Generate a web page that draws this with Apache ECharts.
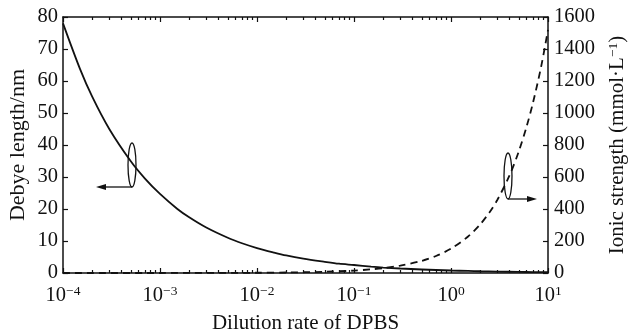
<!DOCTYPE html>
<html>
<head>
<meta charset="utf-8">
<script src="https://cdn.jsdelivr.net/npm/echarts@6/dist/echarts.min.js"></script>
<style>html,body{margin:0;padding:0;background:#fff}#c{width:632px;height:334px}</style>
</head>
<body>
<div id="c"></div>
<script>
const dilution = [1e-4,1.5e-4,2e-4,3e-4,5e-4,7e-4,1e-3,1.5e-3,2e-3,3e-3,5e-3,7e-3,1e-2,1.5e-2,2e-2,3e-2,5e-2,7e-2,0.1,0.15,0.2,0.3,0.5,0.7,1,1.5,2,3,5,7,10];
const debyeLength = [78.0,63.7,55.1,45.0,34.9,29.5,24.7,20.1,17.4,14.2,11.0,9.3,7.8,6.4,5.5,4.5,3.5,2.9,2.5,2.0,1.7,1.4,1.1,0.93,0.78,0.64,0.55,0.45,0.35,0.29,0.25];
const ionicDilution = [1e-4,1e-3,1e-2,2e-2,5e-2,0.1,0.15,0.2,0.3,0.5,0.7,1,1.5,2,2.5,3,4,5,6,7,8.5,10];
const ionicStrength = [0.015,0.15,1.5,3,7.6,15,23,30,46,76,106,152,228,304,380,456,608,760,912,1064,1290,1520];
const xMajorTicks = [1e-4,1e-3,1e-2,1e-1,1,10];
const xMinorTicks = [2e-4,3e-4,4e-4,5e-4,6e-4,7e-4,8e-4,9e-4,2e-3,3e-3,4e-3,5e-3,6e-3,7e-3,8e-3,9e-3,2e-2,3e-2,4e-2,5e-2,6e-2,7e-2,8e-2,9e-2,0.2,0.3,0.4,0.5,0.6,0.7,0.8,0.9,2,3,4,5,6,7,8,9];
const leftTicks = [0,10,20,30,40,50,60,70,80];
const rightTicks = [0,200,400,600,800,1000,1200,1400,1600];

const FONT = '"Liberation Serif","Times New Roman",serif';
const FS = 20.5;
const NFS = 21;
const pairs = (xs, ys) => xs.map((x, i) => [x, ys[i]]);
const expLabel = (v) => {
  const e = Math.round(Math.log10(v));
  return '{b|10}{s|' + String(e).replace('-', '\u2212') + '}';
};
const richTick = {
  b: {fontFamily: FONT, fontSize: FS, color: '#111'},
  s: {fontFamily: FONT, fontSize: 13.5, color: '#111', padding: [0, 0, 10, 0]}
};

function xAxisDef(pos, ticks, len, showLabel, showLine) {
  return {
    type: 'log', logBase: 10, min: 1e-4, max: 10, position: pos, gridIndex: 0,
    axisLine: {show: showLine, onZero: false, lineStyle: {color: '#111', width: 1.5}},
    axisTick: {show: true, inside: true, length: len, lineStyle: {color: '#111', width: 1.2}, customValues: ticks},
    axisLabel: showLabel ? {show: true, margin: 11, formatter: expLabel, rich: richTick, customValues: ticks} : {show: false},
    splitLine: {show: false}, minorTick: {show: false}
  };
}

const xAxes = [
  xAxisDef('bottom', xMajorTicks, 5, true, true),
  xAxisDef('bottom', xMinorTicks, 3, false, false),
  xAxisDef('top', xMajorTicks, 5, false, true),
  xAxisDef('top', xMinorTicks, 3, false, false)
];
xAxes[0].name = 'Dilution rate of DPBS';
xAxes[0].nameLocation = 'middle';
xAxes[0].nameGap = 40;
xAxes[0].nameMoveOverlap = false;
xAxes[0].nameTextStyle = {fontFamily: FONT, fontSize: NFS, color: '#111'};

const chart = echarts.init(document.getElementById('c'));
chart.setOption({
  animation: false,
  backgroundColor: '#fff',
  grid: {left: 63, right: 84, top: 17, bottom: 61, containLabel: false, outerBoundsMode: 'none'},
  xAxis: xAxes,
  yAxis: [
    {
      type: 'value', min: 0, max: 80, interval: 10, position: 'left',
      name: 'Debye length/nm', nameLocation: 'middle', nameGap: 34, nameMoveOverlap: false,
      nameTextStyle: {fontFamily: FONT, fontSize: 22, color: '#111'},
      axisLine: {show: true, lineStyle: {color: '#111', width: 1.5}},
      axisTick: {show: true, inside: true, length: 5, lineStyle: {color: '#111', width: 1.2}, customValues: leftTicks},
      axisLabel: {fontFamily: FONT, fontSize: FS, color: '#111', margin: 5, customValues: leftTicks, formatter: (v) => String(v)},
      splitLine: {show: false}
    },
    {
      type: 'value', min: 0, max: 1600, interval: 200, position: 'right',
      name: 'Ionic strength (mmol\u00b7L{s|\u22121})', nameLocation: 'middle', nameGap: 58, nameMoveOverlap: false,
      nameTextStyle: {fontFamily: FONT, fontSize: 21, color: '#111',
        rich: {s: {fontFamily: FONT, fontSize: 13.5, color: '#111', padding: [0, 0, 9, 0]}}},
      axisLine: {show: true, lineStyle: {color: '#111', width: 1.5}},
      axisTick: {show: true, inside: true, length: 5, lineStyle: {color: '#111', width: 1.2}, customValues: rightTicks},
      axisLabel: {fontFamily: FONT, fontSize: FS, color: '#111', margin: 6, customValues: rightTicks, formatter: (v) => String(v)},
      splitLine: {show: false}
    }
  ],
  series: [
    {
      type: 'line', name: 'Debye length', xAxisIndex: 0, yAxisIndex: 0,
      data: pairs(dilution, debyeLength), showSymbol: false, smooth: 0.3,
      lineStyle: {color: '#111', width: 1.8}, z: 3
    },
    {
      type: 'line', name: 'Ionic strength', xAxisIndex: 0, yAxisIndex: 1,
      data: pairs(ionicDilution, ionicStrength), showSymbol: false, smooth: 0.3,
      lineStyle: {color: '#111', width: 1.8, type: [7, 5]}, z: 3
    }
  ],
  graphic: [
    {type: 'ellipse', shape: {cx: 132, cy: 165, rx: 4, ry: 22}, style: {fill: null, stroke: '#111', lineWidth: 1.3}, z: 10},
    {type: 'line', shape: {x1: 132, y1: 187, x2: 104, y2: 187}, style: {stroke: '#111', lineWidth: 1.3}, z: 10},
    {type: 'polygon', shape: {points: [[96, 187], [106, 184], [106, 190]]}, style: {fill: '#111'}, z: 10},
    {type: 'ellipse', shape: {cx: 508, cy: 176, rx: 4, ry: 23}, style: {fill: null, stroke: '#111', lineWidth: 1.3}, z: 10},
    {type: 'line', shape: {x1: 508, y1: 199, x2: 528, y2: 199}, style: {stroke: '#111', lineWidth: 1.3}, z: 10},
    {type: 'polygon', shape: {points: [[537, 199], [527, 196], [527, 202]]}, style: {fill: '#111'}, z: 10}
  ]
});
</script>
</body>
</html>
